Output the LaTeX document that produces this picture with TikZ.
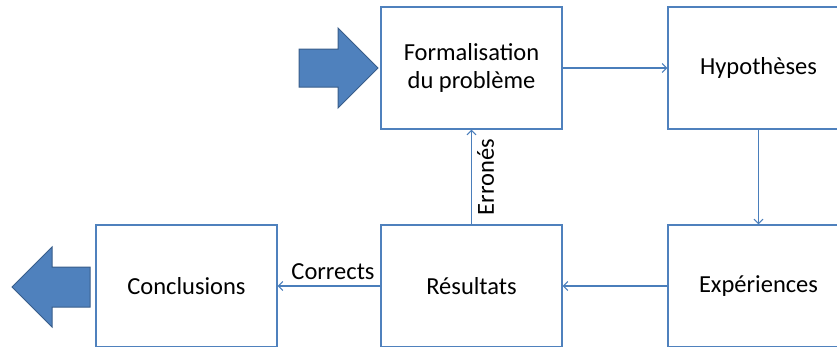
\documentclass[tikz,border=0pt]{standalone}
\usepackage{fontspec}
\setmainfont{Carlito}
\usetikzlibrary{arrows.meta}
\definecolor{boxline}{HTML}{4F81BD}
\definecolor{conn}{HTML}{4A7EBB}
\definecolor{bigfill}{HTML}{4F81BD}
\definecolor{bigline}{HTML}{385D8A}
\begin{document}
\begin{tikzpicture}[x=1pt,y=-1pt,
  stepbox/.style={draw=boxline, line width=1.1pt, fill=white, minimum width=181pt, minimum height=122pt, align=center, inner sep=0pt, font=\fontsize{24.5}{28.5}\selectfont},
  conarrow/.style={draw=conn, line width=1.2pt, -{Straight Barb[length=4.5pt,width=9pt,line width=1.1pt]}},
  lbl/.style={font=\fontsize{24.5}{28.5}\selectfont, inner sep=1pt},
  bigarrow/.style={fill=bigfill, draw=bigline, line width=1pt, line join=miter}]
\useasboundingbox (0,0) rectangle (837,346);
\begin{scope}
\clip (0,0) rectangle (837,346);
\node[stepbox] (form) at (471.5,68) {Formalisation\\du problème};
\node[stepbox] (hyp) at (758.5,68) {Hypothèses};
\node[stepbox] (exp) at (758.5,286) {Expériences};
\node[stepbox] (res) at (471.5,286) {Résultats};
\node[stepbox] (conc) at (186.5,286) {Conclusions};
\end{scope}
\draw[conarrow] (form.east) -- (hyp.west);
\draw[conarrow] (hyp.south) -- (exp.north);
\draw[conarrow] (exp.west) -- (res.east);
\draw[conarrow] (res.north) -- node[lbl, midway, rotate=90, anchor=north, yshift=-4pt] (err) {Erronés} (form.south);
\draw[conarrow] (res.west) -- node[lbl, midway, anchor=base, yshift=7pt, xshift=4pt] (corr) {Corrects} (conc.east);
% big arrows
\draw[bigarrow] (299,49) -- (338,49) -- (338,28) -- (378,68) -- (338,108) -- (338,87) -- (299,87) -- cycle;
\draw[bigarrow] (90,267) -- (52,267) -- (52,247) -- (12,287) -- (52,327) -- (52,307) -- (90,307) -- cycle;
\end{tikzpicture}
\end{document}
